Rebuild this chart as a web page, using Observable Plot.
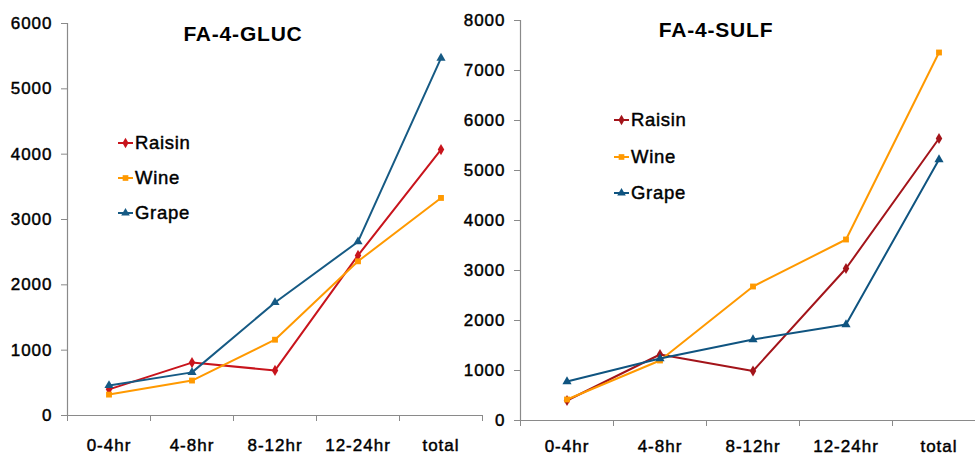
<!DOCTYPE html>
<html>
<head>
<meta charset="utf-8">
<script src="https://cdn.jsdelivr.net/npm/d3@7"></script>
<script src="https://cdn.jsdelivr.net/npm/@observablehq/plot@0.6"></script>
<style>
  html, body { margin: 0; padding: 0; background: #fff; overflow: hidden; }
  #wrap { position: relative; width: 975px; height: 456px; overflow: hidden; background: #fff;
          font-family: "Liberation Sans", Arial, sans-serif; }
  .panel { position: absolute; top: 0; }
  .panel svg { max-width: none !important; display: block; }
  .panel svg text { stroke: #000; stroke-width: 0.45px; }
  .title { position: absolute; width: 240px; text-align: center; font-weight: bold; font-size: 21px;
           line-height: 21px; letter-spacing: 0.8px; color: #000; }
  .legend { position: absolute; }
  .legend .item { display: flex; align-items: center; height: 35px; font-size: 18.5px; letter-spacing: 0.7px; color: #000;
                  -webkit-text-stroke: 0.45px #000; }
  .legend svg { display: block; margin-right: 1px; }
</style>
</head>
<body>
<div id="wrap"></div>
<script>
const categories = ["0-4hr", "4-8hr", "8-12hr", "12-24hr", "total"];
const seriesNames = ["Raisin", "Wine", "Grape"];

const glucRaisin = [400, 810, 690, 2450, 4070];
const glucWine   = [320, 535, 1160, 2360, 3330];
const glucGrape  = [460, 660, 1730, 2660, 5470];

const sulfRaisin = [400, 1320, 990, 3040, 5640];
const sulfWine   = [420, 1200, 2680, 3620, 7360];
const sulfGrape  = [780, 1240, 1620, 1920, 5220];

const glucTicks = [0, 1000, 2000, 3000, 4000, 5000, 6000];
const sulfTicks = [0, 1000, 2000, 3000, 4000, 5000, 6000, 7000, 8000];

const symbols = {Raisin: "diamond", Wine: "square", Grape: "triangle"};
const symbolR = {Raisin: 3.4, Wine: 3.3, Grape: 3.4};

const wrap = document.getElementById("wrap");

function rows(values) {
  return values.map((v, i) => ({x: i + 0.5, v, cat: categories[i]}));
}

function makePanel(cfg) {
  const marks = [
    Plot.ruleX([0], {stroke: "#8a8a8a", strokeWidth: 1.2}),
    Plot.ruleY([0], {stroke: "#8a8a8a", strokeWidth: 1.2}),
    Plot.axisY({ticks: cfg.yTicks, tickSize: 6, tickPadding: 9, stroke: "#8a8a8a", fill: "#000",
                tickFormat: d => String(d), label: null}),
    Plot.axisX({ticks: d3.range(categories.length + 1), tickSize: 6, stroke: "#8a8a8a",
                tickFormat: () => "", label: null}),
    Plot.axisX({ticks: categories.map((c, i) => i + 0.5), tickSize: 0, tickPadding: cfg.xLabelPad, fill: "#000",
                tickFormat: v => categories[Math.floor(v)], label: null})
  ];
  cfg.series.forEach((values, k) => {
    const name = seriesNames[k];
    const color = cfg.colors[k];
    const data = rows(values);
    marks.push(Plot.line(data, {x: "x", y: "v", stroke: color, strokeWidth: 2}));
    marks.push(Plot.dot(data, {x: "x", y: "v", symbol: symbols[name], fill: color, r: symbolR[name]}));
  });
  const plot = Plot.plot({
    width: cfg.width, height: 456,
    marginLeft: cfg.marginLeft, marginRight: cfg.marginRight,
    marginTop: cfg.marginTop, marginBottom: cfg.marginBottom,
    x: {domain: [0, categories.length]},
    y: {domain: [0, cfg.yMax]},
    style: {fontFamily: '"Liberation Sans", Arial, sans-serif', fontSize: "17px", color: "#000",
            background: "transparent", overflow: "visible", letterSpacing: "1px"},
    marks
  });
  const div = document.createElement("div");
  div.className = "panel";
  div.style.left = cfg.left + "px";
  div.style.width = cfg.width + "px";
  div.appendChild(plot);
  wrap.appendChild(div);

  const t = document.createElement("div");
  t.className = "title";
  t.textContent = cfg.title;
  t.style.left = (cfg.titleX - 120) + "px";
  t.style.top = cfg.titleTop + "px";
  wrap.appendChild(t);

  const lg = document.createElement("div");
  lg.className = "legend";
  lg.style.left = cfg.legendLeft + "px";
  lg.style.top = cfg.legendTop + "px";
  seriesNames.forEach((name, k) => {
    const item = document.createElement("div");
    item.className = "item";
    item.style.height = cfg.legendStep + "px";
    const svg = d3.create("svg").attr("width", 16).attr("height", 12);
    svg.append("line").attr("x1", 0).attr("x2", 15).attr("y1", 6).attr("y2", 6)
      .attr("stroke", cfg.colors[k]).attr("stroke-width", 2);
    const sym = {diamond: d3.symbolDiamond, square: d3.symbolSquare, triangle: d3.symbolTriangle}[symbols[name]];
    svg.append("path").attr("d", d3.symbol(sym, Math.PI * 3.2 * 3.2)())
      .attr("transform", "translate(7.5,6)").attr("fill", cfg.colors[k]);
    item.appendChild(svg.node());
    const span = document.createElement("span");
    span.textContent = name;
    item.appendChild(span);
    lg.appendChild(item);
  });
  wrap.appendChild(lg);
}

makePanel({
  left: 0, width: 490, marginLeft: 67, marginRight: 8, marginTop: 23, marginBottom: 41,
  yMax: 6000, yTicks: glucTicks, xLabelPad: 23,
  series: [glucRaisin, glucWine, glucGrape],
  colors: ["#C8141C", "#FF9900", "#165A84"],
  title: "FA-4-GLUC", titleX: 243, titleTop: 23,
  legendLeft: 118, legendTop: 125, legendStep: 35
});

makePanel({
  left: 485, width: 500, marginLeft: 35, marginRight: 0, marginTop: 20, marginBottom: 36,
  yMax: 8000, yTicks: sulfTicks, xLabelPad: 19,
  series: [sulfRaisin, sulfWine, sulfGrape],
  colors: ["#A3141A", "#FF9900", "#0F5480"],
  title: "FA-4-SULF", titleX: 716, titleTop: 19,
  legendLeft: 614, legendTop: 102, legendStep: 36.5
});
</script>
</body>
</html>
